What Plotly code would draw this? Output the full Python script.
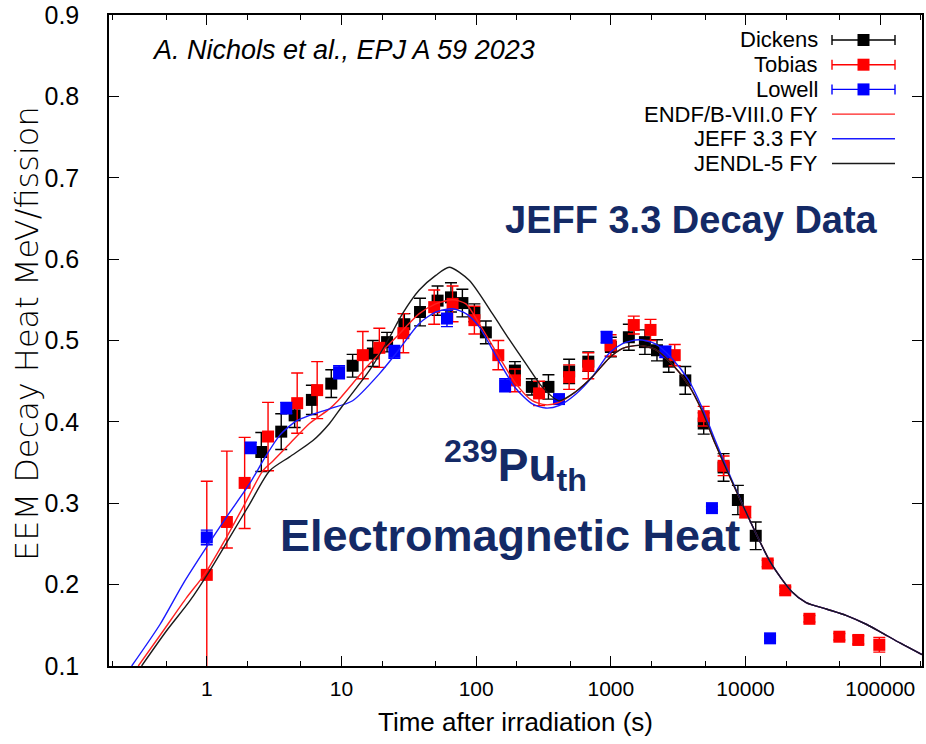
import plotly.graph_objects as go

# ---------------- data ----------------
# Dickens (black squares)
dickens_t = [2.54, 3.57, 4.49, 6.03, 8.4, 12.1, 17.1, 21.8, 29.3, 38.3, 51.7, 65, 79, 97, 118,
             194, 259, 344, 490, 680, 1000, 1360, 1790, 2200, 2690, 3570, 4890, 6870, 8770, 11900]
dickens_v = [0.363, 0.388, 0.408, 0.427, 0.447, 0.469, 0.484, 0.498, 0.520, 0.535, 0.549, 0.553,
             0.546, 0.534, 0.510, 0.463, 0.443, 0.443, 0.462, 0.474, 0.492, 0.504, 0.498, 0.488,
             0.474, 0.451, 0.398, 0.344, 0.304, 0.260]
dickens_e = [0.024, 0.022, 0.015, 0.018, 0.017, 0.014, 0.016, 0.012, 0.013, 0.017, 0.018, 0.018,
             0.017, 0.011, 0.014, 0.011, 0.010, 0.015, 0.015, 0.012, 0.012, 0.016, 0.015, 0.013,
             0.013, 0.017, 0.013, 0.017, 0.018, 0.017]

# Tobias (red squares)
tobias_t = [1.0, 1.41, 1.91, 2.85, 4.69, 6.6, 14.4, 19.1, 28.8, 48.8, 66.8, 97, 146, 194, 293,
            490, 680, 995, 1480, 1970, 2980, 4890, 6870, 9950, 14600, 19700, 29800, 49700, 68700, 98400]
tobias_v = [0.212, 0.277, 0.325, 0.382, 0.423, 0.439, 0.482, 0.491, 0.509, 0.541, 0.545, 0.525,
            0.482, 0.451, 0.435, 0.455, 0.469, 0.494, 0.519, 0.513, 0.482, 0.407, 0.346, 0.289,
            0.226, 0.193, 0.158, 0.136, 0.132, 0.126]
tobias_ep = [0.115, 0.087, 0.056, 0.042, 0.037, 0.035, 0.029, 0.024, 0.024, 0.021, 0.022, 0.017,
             0.018, 0.014, 0.015, 0.015, 0.016, 0.013, 0.011, 0.013, 0.013, 0.012, 0.012, 0.007,
             0.004, 0.004, 0.004, 0.004, 0.005, 0.009]
tobias_em = [0.115, 0.032, 0.056, 0.042, 0.037, 0.035, 0.029, 0.024, 0.024, 0.021, 0.022, 0.017,
             0.018, 0.014, 0.015, 0.015, 0.016, 0.013, 0.011, 0.013, 0.013, 0.012, 0.012, 0.007,
             0.004, 0.004, 0.004, 0.004, 0.005, 0.009]

# Lowell (blue squares)
lowell_t = [1.0, 2.12, 3.89, 9.6, 24.7, 60.7, 164, 412, 930, 2540, 5630, 15200]
lowell_v = [0.258, 0.368, 0.417, 0.461, 0.486, 0.527, 0.445, 0.428, 0.504, 0.486, 0.294, 0.134]
lowell_e = [0.009, 0.007, 0.007, 0.008, 0.008, 0.010, 0.008, 0.005, 0.007, 0.007, 0.002, 0.003]

# Calculations
tail_t = [9954, 15490, 21880, 28180, 39810, 56230, 79430, 100000, 141250, 204000]
tail_v = [0.291, 0.226, 0.192, 0.178, 0.170, 0.162, 0.151, 0.142, 0.128, 0.114]

jeff_t = [0.277, 0.449, 0.667, 0.995, 1.40, 2.08, 2.70, 3.50, 4.60, 5.79, 8.15, 12.1, 19.1, 25.4,
          37.8, 50.1, 66.8, 84, 105, 148, 197, 261, 328, 412, 548, 726, 966, 1213, 1611, 2138,
          2844, 3784, 4742, 5957] + tail_t
jeff_v = [0.100, 0.151, 0.201, 0.246, 0.283, 0.324, 0.356, 0.384, 0.401, 0.408, 0.416, 0.426,
          0.459, 0.484, 0.521, 0.535, 0.539, 0.533, 0.517, 0.474, 0.441, 0.422, 0.417, 0.420,
          0.434, 0.455, 0.484, 0.496, 0.501, 0.496, 0.478, 0.451, 0.418, 0.377] + tail_v

endf_t = [0.310, 0.474, 0.708, 0.966, 1.40, 1.91, 2.61, 3.10, 4.12, 5.79, 8.15, 9.3, 16.1, 25.4,
          37.8, 50.1, 66.8, 84, 105, 148, 197, 261, 328, 412, 548, 726, 966, 1213, 1611, 2138,
          2844, 3784, 4742, 5957] + tail_t
endf_v = [0.100, 0.143, 0.184, 0.213, 0.258, 0.299, 0.340, 0.352, 0.373, 0.398, 0.416, 0.425,
          0.471, 0.504, 0.533, 0.545, 0.550, 0.545, 0.521, 0.480, 0.447, 0.426, 0.421, 0.424,
          0.437, 0.455, 0.478, 0.490, 0.494, 0.489, 0.471, 0.445, 0.414, 0.373] + tail_v

jendl_t = [0.328, 0.501, 0.748, 1.05, 1.48, 2.08, 2.93, 4.12, 6.14, 8.15, 10.0, 16.1, 21.4, 28.4,
           37.8, 50.1, 63.1, 88.7, 132, 175, 233, 309, 412, 548, 726, 966, 1213, 1611, 2138,
           2844, 3784, 4742, 5957] + tail_t
jendl_v = [0.100, 0.143, 0.180, 0.217, 0.258, 0.299, 0.340, 0.357, 0.377, 0.398, 0.418, 0.463,
           0.496, 0.533, 0.562, 0.580, 0.590, 0.574, 0.533, 0.502, 0.472, 0.443, 0.426, 0.437,
           0.455, 0.478, 0.490, 0.494, 0.489, 0.471, 0.445, 0.414, 0.373] + tail_v

x_tickvals = [1, 10, 100, 1000, 10000, 100000]
x_ticktext = ["1", "10", "100", "1000", "10000", "100000"]
y_tickvals = [0.1, 0.2, 0.3, 0.4, 0.5, 0.6, 0.7, 0.8, 0.9]
y_ticktext = ["0.1", "0.2", "0.3", "0.4", "0.5", "0.6", "0.7", "0.8", "0.9"]

legend_labels = ["Dickens", "Tobias", "Lowell", "ENDF/B-VIII.0 FY", "JEFF 3.3 FY", "JENDL-5 FY"]
legend_colors = ["#000000", "#ff0000", "#0000ff", "#ff2020", "#1a1aff", "#1a1a1a"]
legend_kinds = ["points", "points", "points", "line", "line", "line"]

# ---------------- layout geometry (screen pixels; body margin removed below) ----------------
W_FIG, H_FIG = 926, 744
PLOT_L, PLOT_R, PLOT_T, PLOT_B = 109, 922, 15, 666     # wanted plot frame on screen
L, T = PLOT_L, PLOT_T
R, B = W_FIG - PLOT_R, H_FIG - PLOT_B
PW, PH = PLOT_R - PLOT_L, PLOT_B - PLOT_T


def px(xs):
    return (xs - PLOT_L) / PW


def py(ys):
    return (PLOT_B - ys) / PH


FONT = "Liberation Sans, Arial, Helvetica, sans-serif"
NAVY = "#142a66"
fig = go.Figure()


def pts(name, t, v, color, ep, em=None):
    err = dict(type="data", array=ep, color=color, thickness=1.4, width=6)
    if em is not None:
        err["arrayminus"] = em
        err["symmetric"] = False
    fig.add_trace(go.Scatter(
        x=t, y=v, mode="markers", name=name, showlegend=False,
        marker=dict(symbol="square", size=12, color=color),
        error_y=err))


pts("Dickens", dickens_t, dickens_v, legend_colors[0], dickens_e)
pts("Tobias", tobias_t, tobias_v, legend_colors[1], tobias_ep, tobias_em)
pts("Lowell", lowell_t, lowell_v, legend_colors[2], lowell_e)


def curve(name, t, v, color):
    fig.add_trace(go.Scatter(
        x=t, y=v, mode="lines", name=name, showlegend=False,
        line=dict(color=color, width=1.4, shape="spline", smoothing=0.7)))


curve("ENDF/B-VIII.0 FY", endf_t, endf_v, legend_colors[3])
curve("JEFF 3.3 FY", jeff_t, jeff_v, legend_colors[4])
curve("JENDL-5 FY", jendl_t, jendl_v, legend_colors[5])

axis_common = dict(showline=True, linecolor="black", linewidth=1.5, mirror="allticks",
                   ticks="inside", tickcolor="black", ticklen=10, tickwidth=1.2,
                   showgrid=False, zeroline=False, automargin=False,
                   ticklabeloverflow="allow")

fig.update_xaxes(type="log", range=[-0.726, 5.31],
                 tickvals=x_tickvals, ticktext=x_ticktext,
                 minor=dict(ticks="inside", ticklen=5, tickcolor="black", showgrid=False),
                 ticklabelstandoff=3,
                 tickfont=dict(family=FONT, size=21, color="black"),
                 **axis_common)
fig.update_yaxes(range=[0.1, 0.9], tickvals=y_tickvals, ticktext=y_ticktext,
                 ticklabelstandoff=23,
                 tickfont=dict(family=FONT, size=25, color="black"),
                 **axis_common)

fig.update_layout(
    width=W_FIG, height=H_FIG,
    margin=dict(l=L, r=R, t=T, b=B),
    paper_bgcolor="white", plot_bgcolor="white",
    font=dict(family=FONT, color="black"),
    showlegend=False,
)

annotations = [
    dict(text="<i>A. Nichols et al., EPJ A 59 2023</i>", x=px(343), y=py(50),
         font=dict(size=27, color="black")),
    dict(text="<b>JEFF 3.3 Decay Data</b>", x=px(691), y=py(220),
         font=dict(size=38, color=NAVY)),
    dict(text="<b><sup>239</sup>Pu<sub>th</sub></b>", x=px(515), y=py(465),
         font=dict(size=46, color=NAVY)),
    dict(text="<b>Electromagnetic Heat</b>", x=px(510), y=py(535),
         font=dict(size=45, color=NAVY)),
    dict(text="Time after irradiation (s)", x=px(515), y=py(722),
         font=dict(size=26, color="black")),
    dict(text="EEM Decay Heat MeV/fission", x=px(27), y=py(334), textangle=-90,
         font=dict(family="DejaVu Sans, sans-serif", size=32, color="black", weight=300)),
]

# gnuplot-style key: right-aligned labels with the sample on their right
ROW0, ROWSTEP = 40, 24.7
TEXT_RIGHT, S0, S1 = 820, 832, 895
SMID = (S0 + S1) / 2
shapes = []
for i, (lab, col, kind) in enumerate(zip(legend_labels, legend_colors, legend_kinds)):
    yr = ROW0 + i * ROWSTEP
    annotations.append(dict(text=lab, x=px(TEXT_RIGHT), y=py(yr), xanchor="right",
                            font=dict(size=22, color="black")))
    shapes.append(dict(type="line", x0=px(S0), x1=px(S1), y0=py(yr), y1=py(yr),
                       line=dict(color=col, width=1.4)))
    if kind == "points":
        for xe in (S0, S1):
            shapes.append(dict(type="line", x0=px(xe), x1=px(xe), y0=py(yr - 5), y1=py(yr + 5),
                               line=dict(color=col, width=1.4)))
        shapes.append(dict(type="rect", x0=px(SMID - 6), x1=px(SMID + 6),
                           y0=py(yr - 6), y1=py(yr + 6),
                           line=dict(width=0), fillcolor=col))

for a in annotations:
    a.setdefault("xanchor", "center")
    a.update(xref="paper", yref="paper", showarrow=False, yanchor="middle")
    fig.add_annotation(**a)
for s in shapes:
    s.update(xref="paper", yref="paper", layer="above")
    fig.add_shape(**s)

fig.write_html("out.html", config={"displayModeBar": False},
               post_script="document.body.style.margin='0';")
